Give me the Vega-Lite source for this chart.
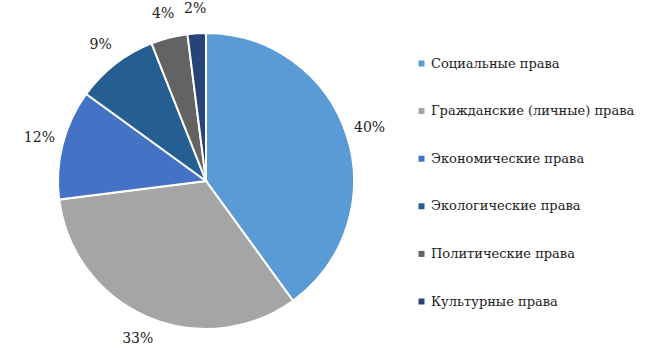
{
  "$schema": "https://vega.github.io/schema/vega-lite/v6.json",
  "width": 412,
  "height": 346,
  "autosize": "none",
  "padding": {"left": 0, "top": 8, "right": 236, "bottom": 0},
  "background": "white",
  "config": {"view": {"stroke": null}, "font": "DejaVu Serif"},
  "data": {"values": [
    {"category": "Социальные права", "share": 0.40, "order": 1},
    {"category": "Гражданские (личные) права", "share": 0.33, "order": 2},
    {"category": "Экономические права", "share": 0.12, "order": 3},
    {"category": "Экологические права", "share": 0.09, "order": 4},
    {"category": "Политические права", "share": 0.04, "order": 5},
    {"category": "Культурные права", "share": 0.02, "order": 6}
  ]},
  "encoding": {
    "theta": {"field": "share", "type": "quantitative", "stack": true},
    "order": {"field": "order", "type": "quantitative"},
    "color": {
      "field": "category", "type": "nominal",
      "scale": {
        "domain": ["Социальные права", "Гражданские (личные) права", "Экономические права", "Экологические права", "Политические права", "Культурные права"],
        "range": ["#5B9BD5", "#A5A5A5", "#4472C4", "#255E91", "#636363", "#264478"]
      },
      "legend": {
        "title": null,
        "orient": "none",
        "legendX": 415,
        "legendY": 49,
        "symbolType": "square",
        "symbolSize": 36,
        "symbolStrokeWidth": 0,
        "labelFont": "DejaVu Serif",
        "labelFontSize": 13,
        "labelColor": "#222",
        "labelOffset": 3,
        "rowPadding": 33.6,
        "labelLimit": 300
      }
    }
  },
  "layer": [
    {"mark": {"type": "arc", "outerRadius": 148, "stroke": "white", "strokeWidth": 2}},
    {"mark": {"type": "text", "radius": 172, "font": "DejaVu Serif", "fontSize": 14, "fill": "#222", "baseline": "middle", "align": "center"},
     "encoding": {"text": {"field": "share", "type": "quantitative", "format": ".0%"}, "color": {"value": "#222"}}}
  ]
}
